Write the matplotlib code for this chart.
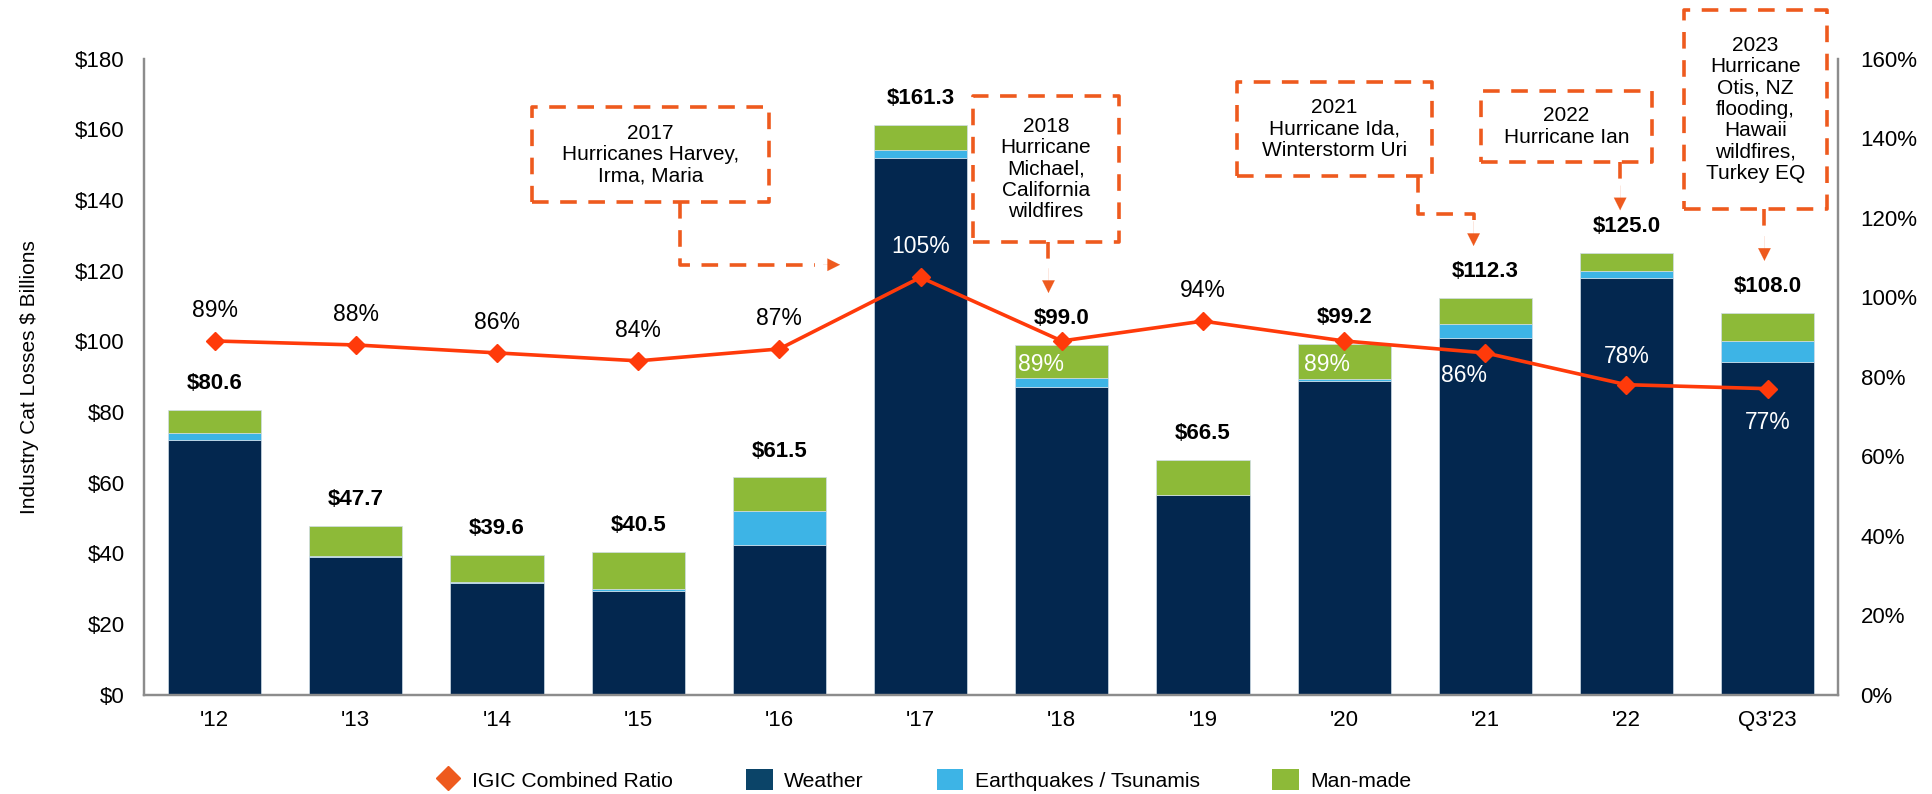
import matplotlib
matplotlib.use("Agg")
import matplotlib.pyplot as plt
import numpy as np
from matplotlib.lines import Line2D
from matplotlib.patches import Patch

plt.rcParams['font.family'] = ['Liberation Sans', 'DejaVu Sans']

# ---------------- data ----------------
categories = ["'12", "'13", "'14", "'15", "'16", "'17", "'18", "'19", "'20", "'21", "'22", "Q3'23"]
weather = [72.2, 39.1, 31.7, 29.3, 42.5, 152.0, 87.2, 56.5, 88.9, 101.0, 118.0, 94.2]
quakes = [1.8, 0.2, 0.3, 0.7, 9.5, 2.2, 2.4, 0.0, 0.5, 4.0, 2.0, 5.8]
totals = [80.6, 47.7, 39.6, 40.5, 61.5, 161.3, 99.0, 66.5, 99.2, 112.3, 125.0, 108.0]
manmade = [t - w - q for t, w, q in zip(totals, weather, quakes)]
combined_ratio = [89, 88, 86, 84, 87, 105, 89, 94, 89, 86, 78, 77]

# label placement styles for ratio labels: (dx in categories, dy in points, color)
ratio_label_style = [
    (0, 22, 'black'), (0, 22, 'black'), (0, 22, 'black'), (0, 22, 'black'),
    (0, 22, 'black'), (0, 22, 'white'), (-0.15, -17, 'white'), (0, 22, 'black'),
    (-0.12, -17, 'white'), (-0.15, -16, 'white'), (0, 20, 'white'), (0, -24, 'white'),
]

c_weather = '#03274F'
c_quake = '#3DB4E6'
c_man = '#8DBA38'
c_line = '#FF3A0A'
c_orange = '#EE5A1E'

fig = plt.figure(figsize=(19.33, 7.94), dpi=100)
ax = fig.add_axes([0.0745, 0.125, 0.8765, 0.801])
ax2 = ax.twinx()

x = np.arange(len(categories))
bw = 0.66
ec = '#d0dde8'
ax.bar(x, weather, bw, color=c_weather, edgecolor=ec, linewidth=0.5, zorder=2)
ax.bar(x, quakes, bw, bottom=weather, color=c_quake, edgecolor=ec, linewidth=0.5, zorder=2)
bot2 = [w + q for w, q in zip(weather, quakes)]
ax.bar(x, manmade, bw, bottom=bot2, color=c_man, edgecolor=ec, linewidth=0.5, zorder=2)

ax.set_xlim(-0.5, len(categories) - 0.5)
ax.set_ylim(0, 180)
ax.set_yticks(np.arange(0, 181, 20))
ax.set_yticklabels([f'${v}' for v in range(0, 181, 20)], fontsize=16)
ax.set_xticks(x)
ax.set_xticklabels(categories, fontsize=16)
ax.tick_params(axis='x', length=0, pad=11)
ax.tick_params(axis='y', length=0, pad=14)
ax.set_ylabel('Industry Cat Losses $ Billions', fontsize=15, labelpad=26)

ax2.set_ylim(0, 160)
ax2.set_yticks(np.arange(0, 161, 20))
ax2.set_yticklabels([f'{v}%' for v in range(0, 161, 20)], fontsize=16)
ax2.tick_params(axis='y', length=0, pad=16)

for a in (ax, ax2):
    a.spines['top'].set_visible(False)
    for s in ('left', 'right', 'bottom'):
        a.spines[s].set_color('#8c8c8c')
        a.spines[s].set_linewidth(1.6)

ax2.plot(x, combined_ratio, color=c_line, lw=2.6, marker='D', markersize=9.5,
         markerfacecolor=c_line, markeredgecolor=c_line, zorder=5)

# total labels
for xi, t in zip(x, totals):
    ax.annotate(f'${t:.1f}', (xi, t), xytext=(0, 19), textcoords='offset points',
                ha='center', va='center', fontsize=16, fontweight='bold', zorder=6)

# ratio labels
for xi, r, (dx, dy, col) in zip(x, combined_ratio, ratio_label_style):
    ax2.annotate(f'{r}%', (xi + dx, r), xytext=(0, dy), textcoords='offset points',
                 ha='center', va='center', fontsize=16.5, color=col, zorder=6)

# ---------------- annotation boxes ----------------
dash = (0, (4.6, 3.2))
lw_box = 2.6

def box(x0, x1, y0, y1, text):
    xs = [x0, x1, x1, x0, x0]
    ys = [y0, y0, y1, y1, y0]
    ax.plot(xs, ys, color=c_orange, lw=lw_box, linestyle=dash, clip_on=False, zorder=7)
    ax.text((x0 + x1) / 2, (y0 + y1) / 2, text, ha='center', va='center',
            fontsize=15, linespacing=1.15, zorder=7, clip_on=False)

def connector(xs, ys):
    ax.plot(xs, ys, color=c_orange, lw=lw_box, linestyle=dash, clip_on=False, zorder=7)

def head(xt, yt, direction):
    if direction == 'down':
        start = (xt, yt + 7)
    else:
        start = (xt - 0.12, yt)
    ax.annotate('', xy=(xt, yt), xytext=start,
                arrowprops=dict(arrowstyle='-|>,head_length=0.9,head_width=0.45',
                                color=c_orange, lw=0.1, shrinkA=0, shrinkB=0),
                annotation_clip=False, zorder=7)

# 2017
box(2.25, 3.925, 139.5, 166.4, '2017\nHurricanes Harvey,\nIrma, Maria')
connector([3.296, 3.296, 4.25], [139.5, 121.7, 121.7])
head(4.43, 121.7, 'right')
# 2018
box(5.374, 6.403, 128.0, 169.5, '2018\nHurricane\nMichael,\nCalifornia\nwildfires')
connector([5.906, 5.906], [128.0, 121.5])
head(5.906, 113.7, 'down')
# 2021
box(7.241, 8.62, 146.8, 173.3, '2021\nHurricane Ida,\nWinterstorm Uri')
connector([8.524, 8.524, 8.917, 8.917], [146.8, 136.0, 136.0, 134.5])
head(8.917, 127.0, 'down')
# 2022
box(8.969, 10.18, 150.7, 170.9, '2022\nHurricane Ian')
connector([9.955, 9.955], [150.7, 145.0])
head(9.955, 137.1, 'down')
# 2023
box(10.41, 11.42, 137.4, 193.9, '2023\nHurricane\nOtis, NZ\nflooding,\nHawaii\nwildfires,\nTurkey EQ')
connector([10.977, 10.977], [137.4, 131.0])
head(10.977, 122.8, 'down')

# ---------------- legend ----------------
handles = [
    Line2D([], [], color='none', marker='D', markersize=12, markerfacecolor=c_orange,
           markeredgecolor=c_orange),
    Patch(facecolor='#0B4468'),
    Patch(facecolor=c_quake),
    Patch(facecolor=c_man),
]
labels = ['IGIC Combined Ratio', 'Weather', 'Earthquakes / Tsunamis', 'Man-made']
fig.legend(handles, labels, loc='center', bbox_to_anchor=(0.4775, 0.0176), ncol=4,
           frameon=False, fontsize=15.2, columnspacing=3.45, handlelength=1.25,
           handleheight=1.18, handletextpad=0.55)

fig.savefig('out.png', dpi=100)
